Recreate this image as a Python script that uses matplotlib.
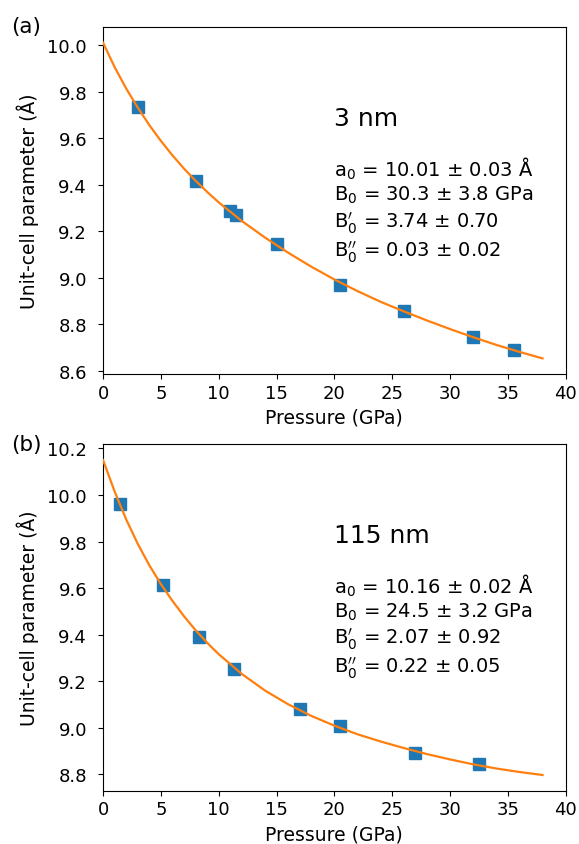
import matplotlib
matplotlib.use("Agg")
import matplotlib.pyplot as plt

# panel (a): 3 nm
p_a = [3.0, 8.0, 11.0, 11.5, 15.0, 20.5, 26.0, 32.0, 35.5]
a_a = [9.735, 9.416, 9.286, 9.269, 9.144, 8.968, 8.858, 8.744, 8.692]
fit_p_a = [0, 1, 2, 3, 4, 5, 6, 7, 8, 9, 10, 12, 14, 16, 18, 20, 22, 24, 26, 28, 30, 32, 34, 36, 38]
fit_a_a = [10.010, 9.905, 9.813, 9.731, 9.656, 9.588, 9.526, 9.469, 9.417, 9.369, 9.324,
           9.244, 9.173, 9.108, 9.048, 8.993, 8.943, 8.897, 8.856, 8.817, 8.780, 8.745,
           8.712, 8.682, 8.654]
params_a = [r"a$_0$ = 10.01 $\pm$ 0.03 Å",
            r"B$_0$ = 30.3 $\pm$ 3.8 GPa",
            r"B$_0^{\prime}$ = 3.74 $\pm$ 0.70",
            r"B$_0^{\prime\prime}$ = 0.03 $\pm$ 0.02"]

# panel (b): 115 nm
p_b = [1.5, 5.2, 8.3, 11.3, 17.0, 20.5, 27.0, 32.5]
a_b = [9.961, 9.612, 9.390, 9.254, 9.082, 9.006, 8.892, 8.843]
fit_p_b = [0, 1, 2, 3, 4, 5, 6, 7, 8, 9, 10, 12, 14, 16, 18, 20, 22, 24, 26, 28, 30, 32, 34, 36, 38]
fit_a_b = [10.150, 10.015, 9.895, 9.790, 9.698, 9.617, 9.545, 9.479, 9.419, 9.365, 9.316,
           9.231, 9.160, 9.101, 9.051, 9.009, 8.972, 8.941, 8.913, 8.887, 8.864, 8.843,
           8.825, 8.810, 8.797]
params_b = [r"a$_0$ = 10.16 $\pm$ 0.02 Å",
            r"B$_0$ = 24.5 $\pm$ 3.2 GPa",
            r"B$_0^{\prime}$ = 2.07 $\pm$ 0.92",
            r"B$_0^{\prime\prime}$ = 0.22 $\pm$ 0.05"]

fig = plt.figure(figsize=(5.79, 8.45), dpi=100)
ax_a = fig.add_axes([0.178, 0.556, 0.799, 0.411])
ax_b = fig.add_axes([0.178, 0.063, 0.799, 0.410])

panels = [
    (ax_a, p_a, a_a, fit_p_a, fit_a_a, "3 nm", params_a, [8.6, 8.8, 9.0, 9.2, 9.4, 9.6, 9.8, 10.0]),
    (ax_b, p_b, a_b, fit_p_b, fit_a_b, "115 nm", params_b, [8.8, 9.0, 9.2, 9.4, 9.6, 9.8, 10.0, 10.2]),
]

for ax, p, a, fp, fa, size_label, params, yticks in panels:
    ax.plot(p, a, "s", color="#1f77b4", ms=8.5, zorder=2)
    ax.plot(fp, fa, "-", color="#ff7f0e", lw=1.6, zorder=3)
    ax.set_xlim(0, 40)
    ax.set_xticks(range(0, 41, 5))
    ax.set_yticks(yticks)
    ax.set_yticklabels([f"{v:.1f}" for v in yticks])
    ax.tick_params(labelsize=13)
    ax.tick_params(axis="y", pad=8)
    ax.set_xlabel("Pressure (GPa)", fontsize=13.5, labelpad=4)
    ax.set_ylabel("Unit-cell parameter (Å)", fontsize=13.5, labelpad=6)
    ax.text(0.5, 0.717, size_label, transform=ax.transAxes, fontsize=18, va="baseline")
    # baseline of a multi-line text is the last line
    ax.text(0.5, 0.341, "\n".join(params), transform=ax.transAxes, fontsize=14, va="baseline")

fig.text(0.02, 1 - 17 / 845, "(a)", fontsize=15.5, va="top")
fig.text(0.02, 1 - 435 / 845, "(b)", fontsize=15.5, va="top")

fig.savefig("out.png", dpi=100)
